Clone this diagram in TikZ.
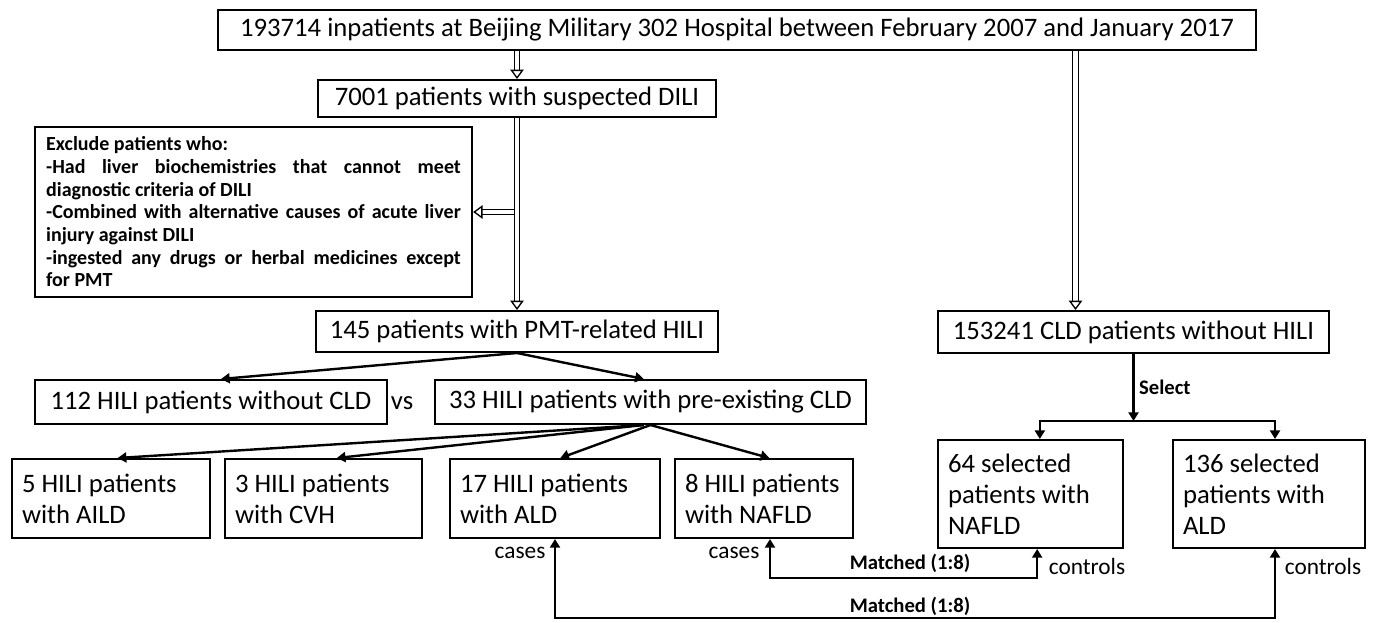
\documentclass[tikz,border=0pt]{standalone}
\usepackage{fontspec}
\setmainfont{Carlito}
\usetikzlibrary{arrows.meta, positioning, calc}

\tikzset{
  box/.style={draw, line width=1.5pt, inner sep=0pt, font=\fontsize{20}{23.25}\selectfont},
  casebox/.style={draw, line width=1.5pt, inner xsep=7.5pt, inner ysep=0pt, align=flush left, font=\fontsize{20}{23.25}\selectfont},
  arr/.style={line width=1.8pt, -{Triangle[length=6.5pt,width=7.5pt]}},
  dblarr/.style={line width=1pt, double distance=3.2pt, -{Triangle[open, length=7pt, width=10pt, line width=1pt]}},
  lbl/.style={font=\fontsize{17.5}{20}\selectfont},
  blbl/.style={font=\bfseries\fontsize{15.5}{18}\selectfont},
}

\begin{document}
\begin{tikzpicture}[x=0.75pt, y=-0.75pt]
\useasboundingbox (0,0) rectangle (1373,622);
% Screening
\node[box, minimum width=778.5pt, minimum height=30pt] (top) at (737,30) {193714 inpatients at Beijing Military 302 Hospital between February 2007 and January 2017};
\node[box, minimum width=298.5pt, minimum height=27.75pt] (dili) at (517,98.5) {7001 patients with suspected DILI};
\node[draw, line width=1.5pt, inner xsep=8.5pt, inner ysep=0pt, text width=311pt, minimum height=127.5pt, align=justify, font=\bfseries\fontsize{15}{17}\selectfont] (excl) at (253.5,212) {Exclude patients who:\\
-Had liver biochemistries that cannot meet\linebreak diagnostic criteria of DILI\\
-Combined with alternative causes of acute liver\linebreak injury against DILI\\
-ingested any drugs or herbal medicines except\linebreak for PMT};
\node[box, minimum width=301.5pt, minimum height=30.75pt] (hili) at (517,331.5) {145 patients with PMT-related HILI};
\node[box, minimum width=293.25pt, minimum height=31.5pt] (cld) at (1133.5,332) {153241 CLD patients without HILI};
% Groups
\node[box, minimum width=264pt, minimum height=33pt] (nocld) at (211,402) {112 HILI patients without CLD};
\node[font=\fontsize{20}{23}\selectfont] (vs) at (402,403) {vs};
\node[box, minimum width=323.25pt, minimum height=33pt] (precld) at (650.5,402) {33 HILI patients with pre-existing CLD};
\node[casebox, text width=133.5pt, minimum height=59.25pt] (aild) at (111,498.5) {5 HILI patients\\with AILD};
\node[casebox, text width=132.75pt, minimum height=59.25pt] (cvh) at (323.5,498.5) {3 HILI patients\\with CVH};
\node[casebox, text width=142.5pt, minimum height=59.25pt] (ald) at (555,498.5) {17 HILI patients\\with ALD};
\node[casebox, text width=118.5pt, minimum height=59.25pt] (nafld) at (764,498.5) {8 HILI patients\\with NAFLD};
\node[casebox, text width=123.75pt, minimum height=81pt] (ctrlnafld) at (1030.5,494) {64 selected\\patients with\\NAFLD};
\node[casebox, text width=129pt, minimum height=81pt] (ctrlald) at (1269,494) {136 selected\\patients with\\ALD};
% Double arrows
\coordinate (cldin) at ([xshift=-43.5pt]cld.north);
\draw[dblarr] (top.south -| dili.north) -- (dili.north);
\draw[dblarr] (top.south -| cldin) -- (cldin);
\draw[dblarr] (dili.south) -- (hili.north);
\draw[dblarr] ([xshift=-2pt]dili.south |- excl.east) -- (excl.east);
% Arrows
\draw[arr] (hili.south) -- ([xshift=7.5pt]nocld.north);
\draw[arr] (hili.south) -- ([xshift=-5pt]precld.north);
\draw[arr] ([xshift=-5pt]precld.south) -- ([xshift=5pt]aild.north);
\draw[arr] ([xshift=-5pt]precld.south) -- ([xshift=10pt]cvh.north);
\draw[arr] (precld.south) -- ([xshift=4pt]ald.north);
\draw[arr] (precld.south) -- ([xshift=4pt]nafld.north);
\draw[arr] (cld.south) -- ++(0,67) coordinate (fork) node[midway, right, blbl] {Select};
\draw[arr] (fork) -| ([xshift=7pt]ctrlnafld.north);
\draw[arr] (fork) -| ([xshift=4.5pt]ctrlald.north);
% Matching
\draw[arr, {Triangle[length=6.5pt,width=7.5pt]}-{Triangle[length=6.5pt,width=7.5pt]}] ([xshift=4.5pt]nafld.south) -- ++(0,39) -| ([xshift=5pt]ctrlnafld.south);
\draw[arr, {Triangle[length=6.5pt,width=7.5pt]}-{Triangle[length=6.5pt,width=7.5pt]}] (ald.south) -- ++(0,79) -| ([xshift=4.5pt]ctrlald.south);
\node[blbl] at (910,563) {Matched (1:8)};
\node[blbl] at (910,606) {Matched (1:8)};
\node[lbl] at (734,553) {cases};
\node[lbl] at (520,553) {cases};
\node[lbl] at (1087,566) {controls};
\node[lbl] at (1323,566) {controls};
\end{tikzpicture}
\end{document}
